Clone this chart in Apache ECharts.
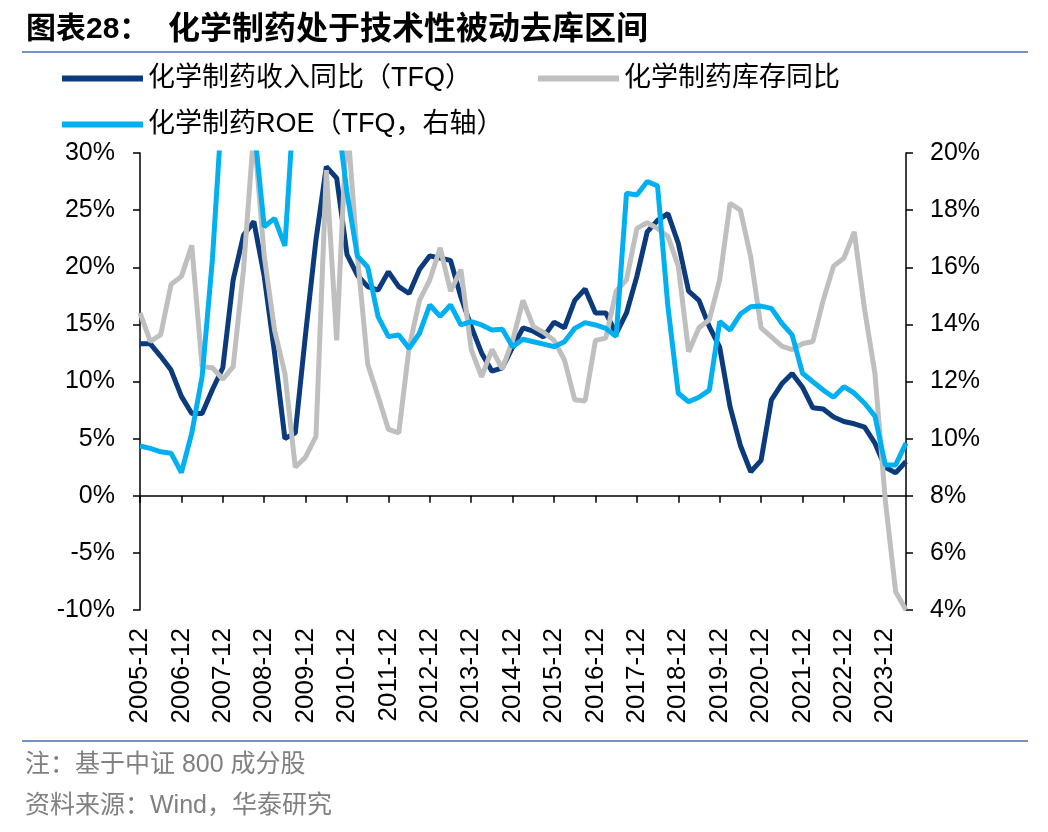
<!DOCTYPE html>
<html>
<head>
<meta charset="utf-8">
<script src="https://cdn.jsdelivr.net/npm/echarts@6/dist/echarts.min.js"></script>
<style>
html,body{margin:0;padding:0;background:#fff;}
#chart{width:1048px;height:832px;}
</style>
</head>
<body>
<div id="chart"></div>
<script>
const categories = [
"2005-12",
"2006-03","2006-06","2006-09","2006-12",
"2007-03","2007-06","2007-09","2007-12",
"2008-03","2008-06","2008-09","2008-12",
"2009-03","2009-06","2009-09","2009-12",
"2010-03","2010-06","2010-09","2010-12",
"2011-03","2011-06","2011-09","2011-12",
"2012-03","2012-06","2012-09","2012-12",
"2013-03","2013-06","2013-09","2013-12",
"2014-03","2014-06","2014-09","2014-12",
"2015-03","2015-06","2015-09","2015-12",
"2016-03","2016-06","2016-09","2016-12",
"2017-03","2017-06","2017-09","2017-12",
"2018-03","2018-06","2018-09","2018-12",
"2019-03","2019-06","2019-09","2019-12",
"2020-03","2020-06","2020-09","2020-12",
"2021-03","2021-06","2021-09","2021-12",
"2022-03","2022-06","2022-09","2022-12",
"2023-03","2023-06","2023-09","2023-12",
"2024-03","2024-06"
];

// 化学制药收入同比（TFQ），%
const revenueYoY = [
13.3,13.3,12.2,11.0,8.7,7.2,7.2,9.3,11.2,18.9,
22.8,24.0,19.2,12.5,5.0,5.5,14.2,22.4,28.8,27.8,
21.1,19.3,18.3,18.0,19.6,18.3,17.7,19.8,21.0,20.8,
20.6,17.4,14.8,12.5,10.9,11.2,13.0,14.7,14.4,13.9,
15.2,14.7,17.1,18.1,16.0,16.0,14.2,16.0,19.2,23.1,
24.1,24.7,22.1,17.9,17.1,14.8,13.0,7.8,4.4,2.1,
3.1,8.4,9.8,10.7,9.5,7.7,7.6,6.9,6.5,6.3,
6.0,4.6,2.5,2.0,3.0
];

// 化学制药库存同比，%
const inventoryYoY = [
16.0,13.5,14.1,18.5,19.2,21.9,11.3,11.2,10.2,11.3,
19.8,32.0,21.0,14.5,10.7,2.5,3.4,5.2,28.5,13.6,
33.0,21.0,11.5,8.7,5.8,5.5,13.0,17.1,18.9,21.7,
17.9,19.8,12.8,10.4,12.8,11.1,13.6,17.1,14.8,14.3,
13.6,11.9,8.4,8.3,13.6,13.8,17.9,18.9,23.4,23.9,
23.4,22.7,20.1,12.6,14.7,15.4,18.9,25.6,25.0,20.9,
14.7,13.9,13.1,12.8,13.3,13.5,17.1,20.1,20.8,23.1,
16.3,10.7,-0.4,-8.4,-10.0
];

// 化学制药ROE（TFQ，右轴），%
const roeTFQ = [
9.74,9.66,9.54,9.49,8.81,10.19,12.17,16.3,22.0,24.0,
23.0,21.0,17.42,17.71,16.75,22.5,24.0,25.0,24.0,21.5,
18.6,16.4,16.0,14.27,13.57,13.63,13.16,13.69,14.68,14.28,
14.68,13.98,14.1,13.98,13.8,13.83,13.22,13.48,13.39,13.31,
13.22,13.39,13.86,14.06,13.98,13.86,13.57,18.59,18.53,19.0,
18.85,14.62,11.59,11.29,11.45,11.7,14.1,13.8,14.36,14.62,
14.64,14.56,14.04,13.63,12.29,11.99,11.7,11.45,11.82,11.59,
11.24,10.79,9.08,9.08,9.84
];

const seriesNames = ["化学制药收入同比（TFQ）", "化学制药库存同比", "化学制药ROE（TFQ，右轴）"];
const leftTicks = {min: -10, max: 30, interval: 5};
const rightTicks = {min: 4, max: 20, interval: 2};

const FONT = '"Liberation Sans", Arial, "Noto Sans CJK SC", sans-serif';
const chart = echarts.init(document.getElementById('chart'));
const axisLineStyle = {color: '#000', width: 1.5};
const legendText = {fontSize: 27, color: '#000', fontFamily: FONT};

const option = {
  animation: false,
  backgroundColor: '#fff',
  textStyle: {fontFamily: FONT},
  title: [
    {text: '图表28：', left: 26, top: 15, padding: 0, textStyle: {fontSize: 30, fontWeight: 'bold', color: '#000', fontFamily: FONT}},
    {text: '化学制药处于技术性被动去库区间', left: 168, top: 14, padding: 0, textStyle: {fontSize: 32, fontWeight: 'bold', color: '#000', fontFamily: FONT}},
    {text: '注：基于中证 800 成分股', left: 25, top: 753, padding: 0, textStyle: {fontSize: 25, fontWeight: 'normal', color: '#808080', fontFamily: FONT}},
    {text: '资料来源：Wind，华泰研究', left: 25, top: 794, padding: 0, textStyle: {fontSize: 25, fontWeight: 'normal', color: '#808080', fontFamily: FONT}}
  ],
  graphic: [
    {type: 'line', shape: {x1: 22, y1: 52, x2: 1028, y2: 52}, style: {stroke: '#7092c4', lineWidth: 2}},
    {type: 'line', shape: {x1: 22, y1: 741, x2: 1028, y2: 741}, style: {stroke: '#7092c4', lineWidth: 2}}
  ],
  legend: [
    {data: [seriesNames[0]], left: 62, top: 65, padding: 0, icon: 'rect', itemWidth: 81, itemHeight: 6, textStyle: legendText},
    {data: [seriesNames[1]], left: 538, top: 65, padding: 0, icon: 'rect', itemWidth: 81, itemHeight: 6, textStyle: legendText},
    {data: [seriesNames[2]], left: 62, top: 111, padding: 0, icon: 'rect', itemWidth: 81, itemHeight: 6, textStyle: legendText}
  ],
  grid: {left: 140, right: 142, top: 153, bottom: 222, containLabel: false},
  xAxis: [
    {
      type: 'category', data: categories, boundaryGap: false, position: 'bottom',
      axisLine: {show: true, onZero: true, onZeroAxisIndex: 0, lineStyle: axisLineStyle},
      axisTick: {show: true, interval: 3, length: 7, inside: false, lineStyle: axisLineStyle},
      axisLabel: {show: false},
      splitLine: {show: false}
    },
    {
      type: 'category', data: categories, boundaryGap: false, position: 'bottom',
      axisLine: {show: false, onZero: false},
      axisTick: {show: false},
      axisLabel: {show: true, interval: 3, rotate: 90, margin: 18, fontSize: 26, color: '#000', fontFamily: FONT},
      splitLine: {show: false}
    }
  ],
  yAxis: [
    {
      type: 'value', position: 'left', min: leftTicks.min, max: leftTicks.max, interval: leftTicks.interval,
      axisLine: {show: true, lineStyle: axisLineStyle},
      axisTick: {show: true, length: 7, lineStyle: axisLineStyle},
      axisLabel: {formatter: '{value}%', fontSize: 25, color: '#000', margin: 25, fontFamily: FONT},
      splitLine: {show: false}
    },
    {
      type: 'value', position: 'right', min: rightTicks.min, max: rightTicks.max, interval: rightTicks.interval,
      axisLine: {show: true, lineStyle: axisLineStyle},
      axisTick: {show: true, length: 7, lineStyle: axisLineStyle},
      axisLabel: {formatter: '{value}%', fontSize: 25, color: '#000', margin: 24, fontFamily: FONT},
      splitLine: {show: false}
    }
  ],
  series: [
    {name: seriesNames[0], type: 'line', xAxisIndex: 0, yAxisIndex: 0, data: revenueYoY,
     symbol: 'none', clip: true, color: '#0b3b7c', lineStyle: {width: 5, color: '#0b3b7c'}},
    {name: seriesNames[1], type: 'line', xAxisIndex: 0, yAxisIndex: 0, data: inventoryYoY,
     symbol: 'none', clip: true, color: '#bfbfbf', lineStyle: {width: 5, color: '#bfbfbf'}},
    {name: seriesNames[2], type: 'line', xAxisIndex: 0, yAxisIndex: 1, data: roeTFQ,
     symbol: 'none', clip: true, color: '#00b0f0', lineStyle: {width: 5, color: '#00b0f0'}}
  ]
};
chart.setOption(option);
</script>
</body>
</html>
